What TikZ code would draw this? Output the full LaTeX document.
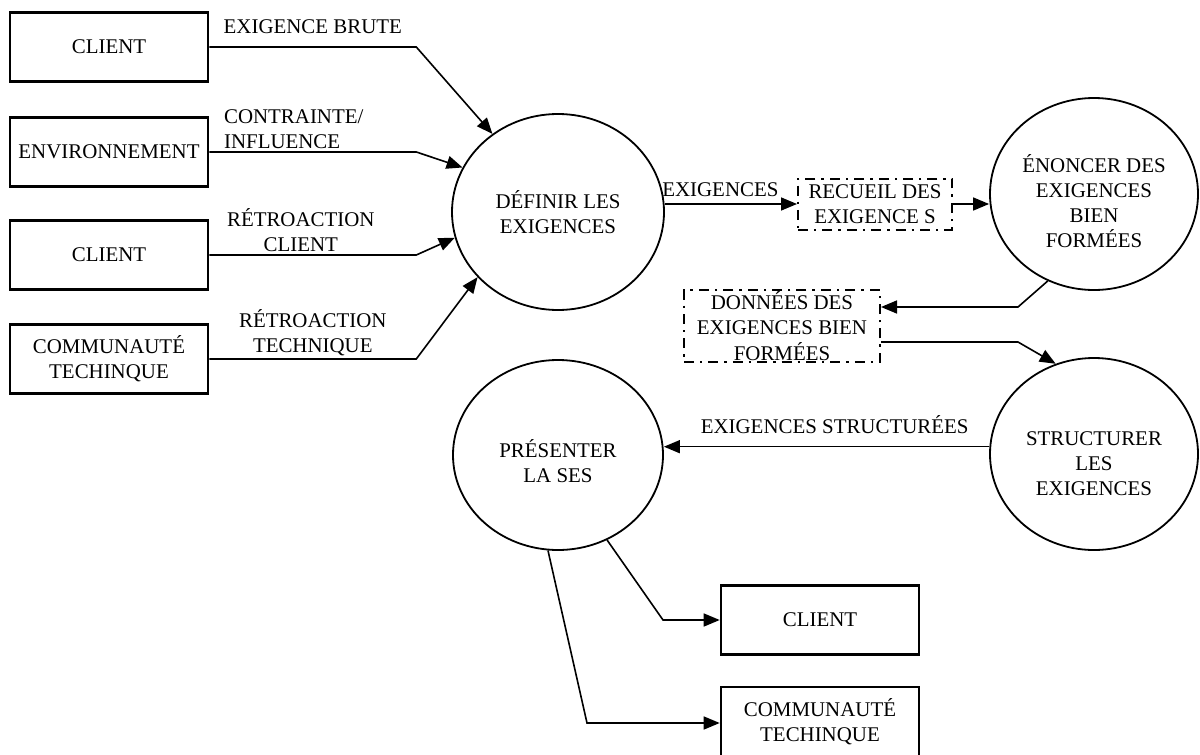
\documentclass[tikz,border=0pt]{standalone}
\usepackage{fontspec}
\setmainfont{Liberation Serif}
\usetikzlibrary{arrows.meta,shapes.geometric}

\begin{document}
\begin{tikzpicture}[x=0.5pt,y=-0.5pt,
  every node/.style={font=\fontsize{10.45}{12.6}\selectfont},
  ent/.style={draw, line width=1.3pt, minimum width=99pt, minimum height=34.5pt, inner sep=0pt, align=center},
  proc/.style={draw, ellipse, line width=0.9pt, inner sep=0pt, align=center},
  store/.style={draw, line width=1pt, dash pattern=on 5pt off 3pt on 1.2pt off 3pt, inner sep=0pt, align=center},
  flow/.style={line width=0.8pt, -{Triangle[length=8pt,width=6.5pt]}},
  lbl/.style={inner sep=1pt, align=center}]
\useasboundingbox (0,0) rectangle (1200,755);

% entites externes
\node[ent] (cl1) at (109,47) {CLIENT};
\node[ent] (env) at (109,152) {ENVIRONNEMENT};
\node[ent] (cl2) at (109,255) {CLIENT};
\node[ent] (com1) at (109,359) {COMMUNAUTÉ\\TECHINQUE};
\node[ent] (cl3) at (820,620) {CLIENT};
\node[ent] (com2) at (820,721.5) {COMMUNAUTÉ\\TECHINQUE};

% processus
\node[proc, minimum width=106pt, minimum height=98pt] (def) at (558,212) {DÉFINIR LES\\EXIGENCES};
\node[proc, minimum width=104pt, minimum height=96pt, text height=54pt] (eno) at (1094,194) {ÉNONCER DES\\EXIGENCES\\BIEN\\FORMÉES};
\node[proc, minimum width=104pt, minimum height=96pt, text height=41.5pt] (str) at (1094,454) {STRUCTURER\\LES\\EXIGENCES};
\node[proc, minimum width=105pt, minimum height=95pt, text height=28pt] (pre) at (558,455) {PRÉSENTER\\LA SES};

% stockages
\node[store, minimum width=77pt, minimum height=25.5pt] (rec) at (875,204) {RECUEIL DES\\EXIGENCE S};
\node[store, minimum width=98pt, minimum height=36pt] (don) at (782,326) {DONNÉES DES\\EXIGENCES BIEN\\FORMÉES};

\coordinate (b1) at (1018,307);
\coordinate (b2) at (1018,342);
\coordinate (b4) at (663,620);
\coordinate (b5) at (587,723);

\draw[flow] (cl1.east) -- node[lbl, above=5pt] {EXIGENCE BRUTE} ++(207,0) -- (def.130);
\draw[flow] (env.east) -- ++(207,0) node[lbl, pos=0, anchor=south west, align=left, xshift=6pt] {CONTRAINTE/\\INFLUENCE} -- (def.155);
\draw[flow] (cl2.east) -- node[lbl, above=0pt, xshift=-6pt] {RÉTROACTION\\CLIENT} ++(207,0) -- (def.194);
\draw[flow] (com1.east) -- node[lbl, above=0pt] {RÉTROACTION\\TECHNIQUE} ++(207,0) -- (def.219);
\draw[flow] (rec.west -| def.east) -- node[lbl, above=2pt, pos=0.42] {EXIGENCES} (rec.west);
\draw[flow] (rec.east) -- (rec.east -| eno.west);
\draw[flow] (eno.242) -- (b1) -- (b1 -| don.east);
\draw[flow] (b2 -| don.east) -- (b2) -- (str.113);
\draw[flow] (str.176) -- node[lbl, above=5pt, xshift=4pt] {EXIGENCES STRUCTURÉES} (str.176 -| pre.east);
\draw[flow] (pre.300) -- (b4) -- (cl3);
\draw[flow] (pre.264) -- (b5) -- (b5 -| com2.west);
\end{tikzpicture}
\end{document}
